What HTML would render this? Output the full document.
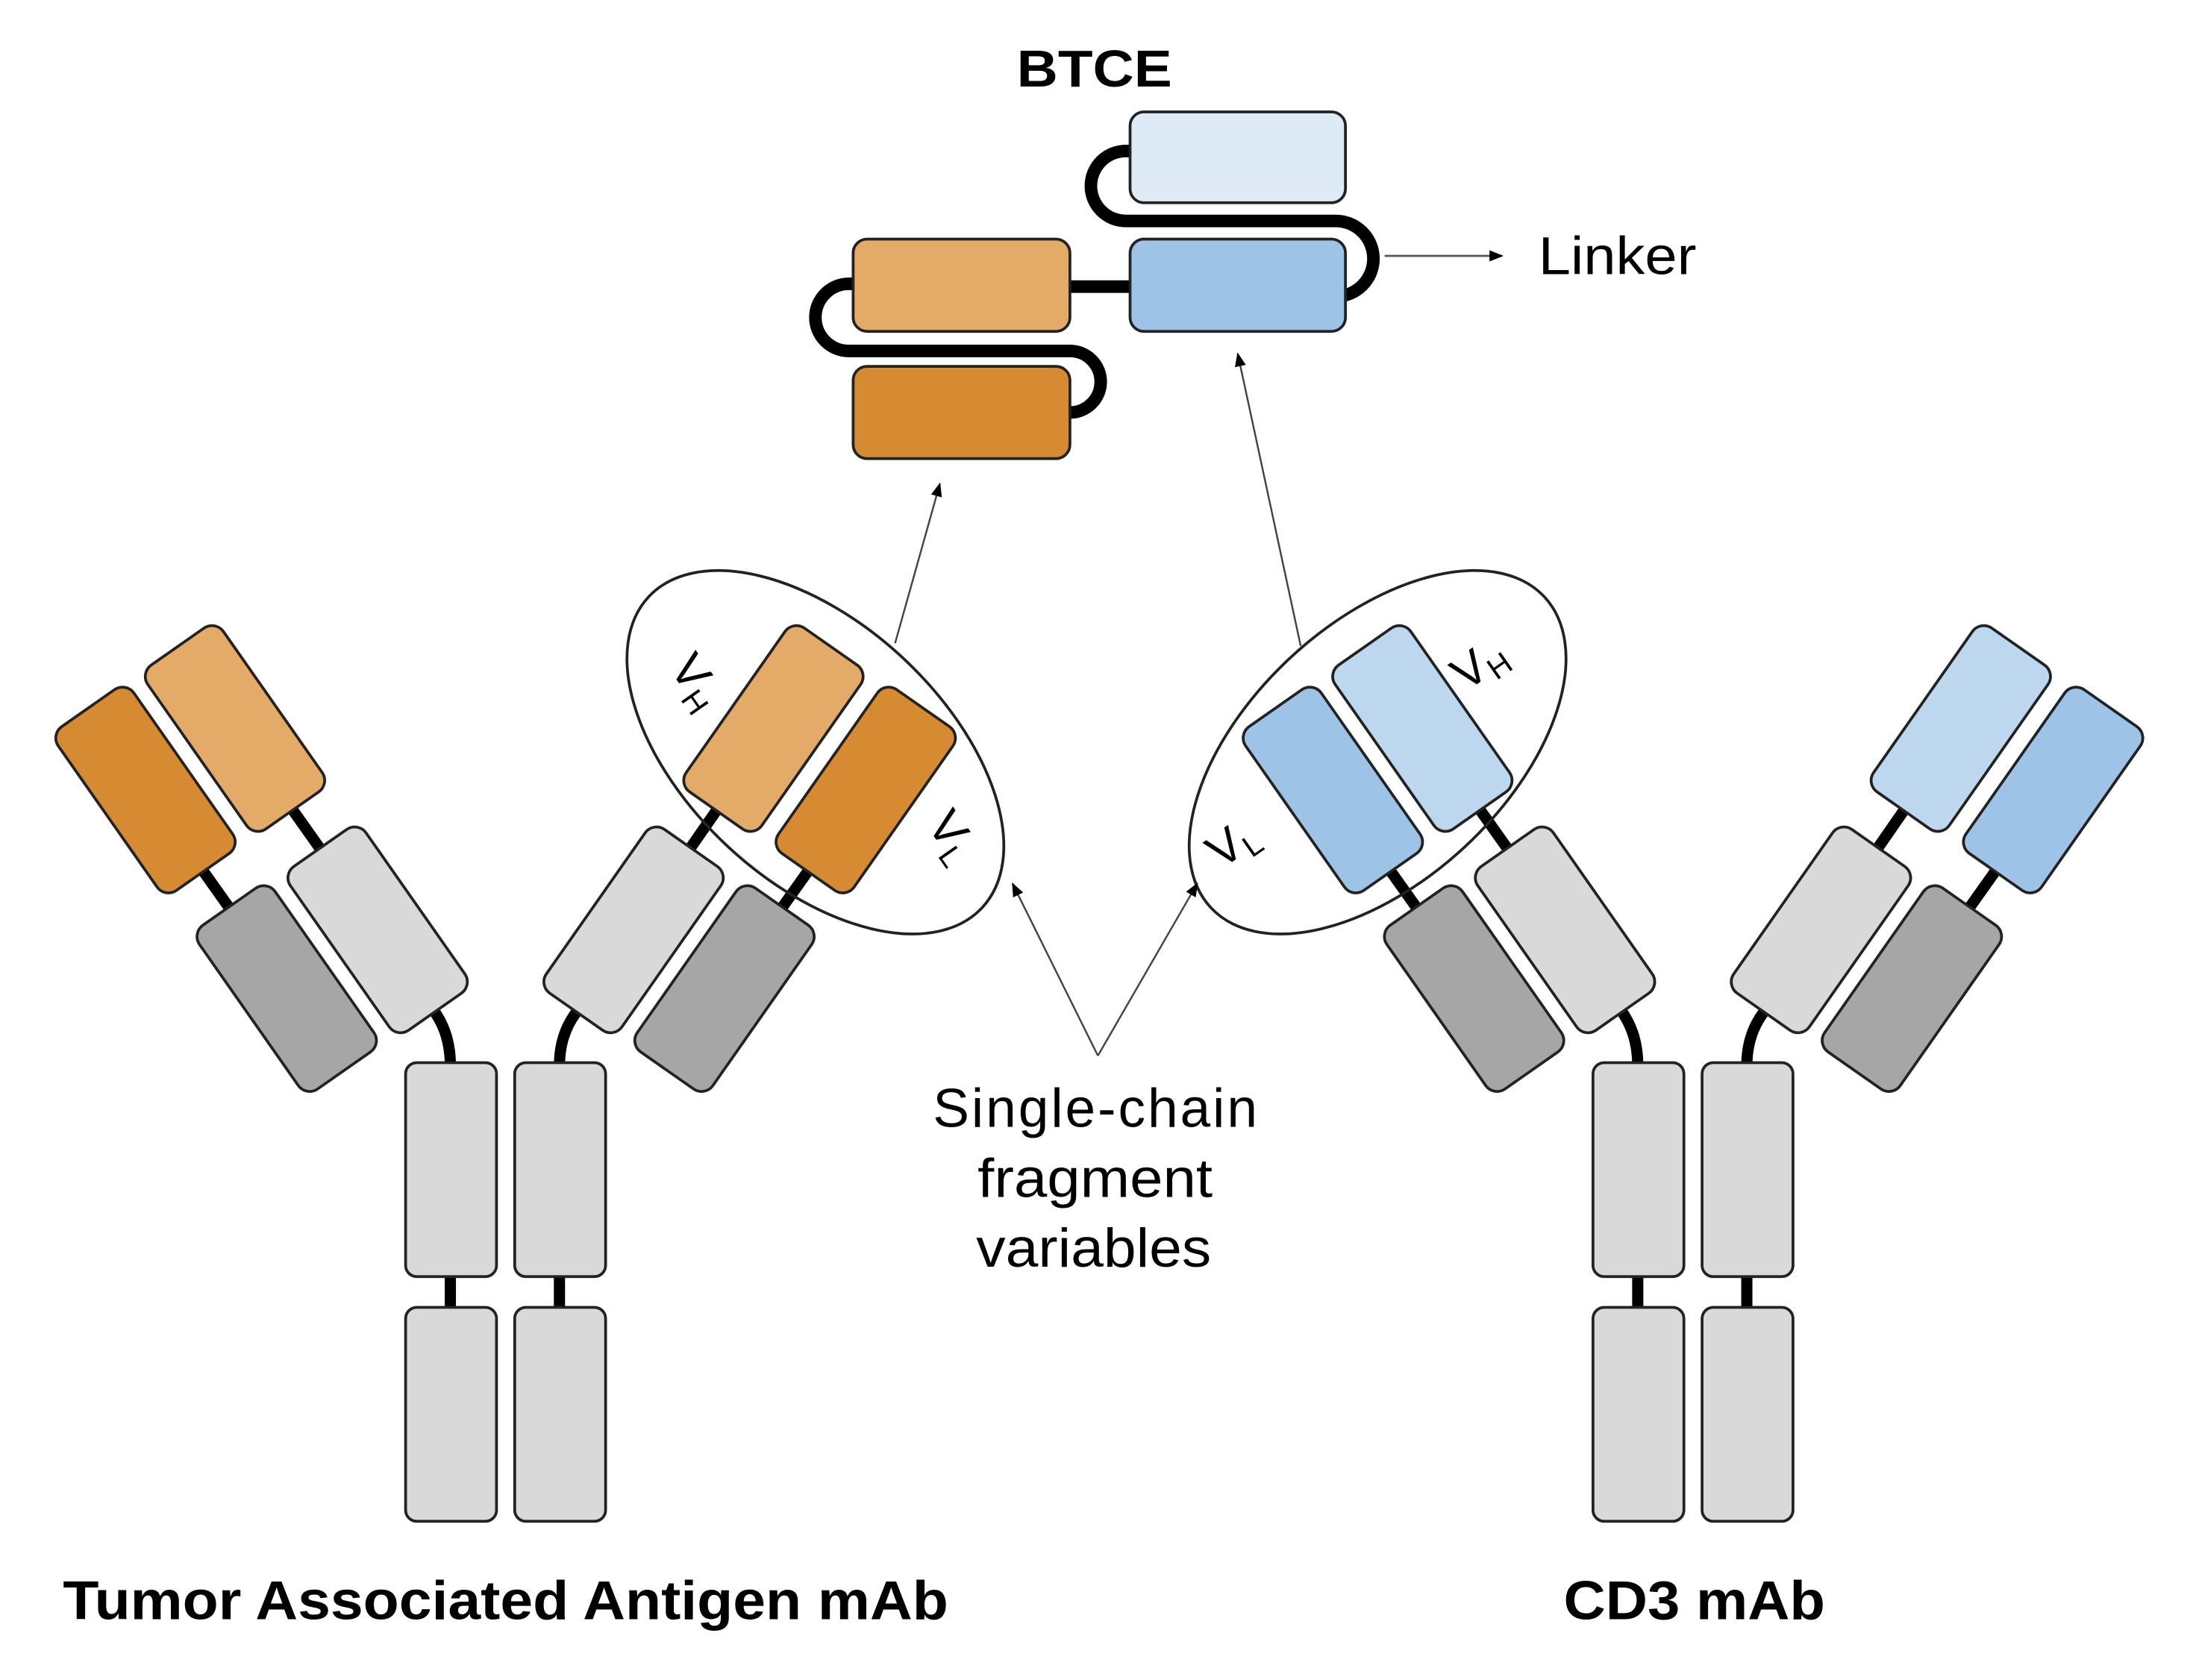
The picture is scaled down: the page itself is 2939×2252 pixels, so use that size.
<!DOCTYPE html>
<html><head><meta charset="utf-8"><style>html,body{margin:0;padding:0;background:#fff}svg{display:block}</style></head>
<body>
<svg width="2939" height="2252" viewBox="0 0 1568 1201.5" xmlns="http://www.w3.org/2000/svg" font-family="Liberation Sans, sans-serif">
<defs>
<marker id="ah" markerWidth="10" markerHeight="8" refX="9" refY="4" orient="auto" markerUnits="userSpaceOnUse"><path d="M0,0 L10,4 L0,8 z" fill="#000"/></marker>
<g id="box"><rect x="-33" y="-71.5" width="66" height="143" rx="10" stroke="#222" stroke-width="2"/></g>
<g id="stem">
<line x1="32" y1="913" x2="32" y2="935" stroke="#000" stroke-width="8"/>
<line x1="110" y1="913" x2="110" y2="935" stroke="#000" stroke-width="8"/>
<rect x="0" y="760" width="65" height="153" rx="8" fill="#D9D9D9" stroke="#222" stroke-width="2"/>
<rect x="78" y="760" width="65" height="153" rx="8" fill="#D9D9D9" stroke="#222" stroke-width="2"/>
<rect x="0" y="935" width="65" height="153" rx="8" fill="#D9D9D9" stroke="#222" stroke-width="2"/>
<rect x="78" y="935" width="65" height="153" rx="8" fill="#D9D9D9" stroke="#222" stroke-width="2"/>
</g>
</defs>

<g>
<path d="M311,724 Q322,740 322,762" fill="none" stroke="#000" stroke-width="8"/>
<path d="M412,724 Q400,740 400,762" fill="none" stroke="#000" stroke-width="8"/>
<line x1="104" y1="565" x2="205" y2="707" stroke="#000" stroke-width="8"/>
<line x1="168" y1="521" x2="270" y2="665" stroke="#000" stroke-width="8"/>
<line x1="619" y1="565" x2="518" y2="707" stroke="#000" stroke-width="8"/>
<line x1="553" y1="521" x2="453" y2="665" stroke="#000" stroke-width="8"/>
<use href="#stem" x="290"/>
<g transform="translate(104,565) rotate(-35)"><use href="#box" fill="#D68A31"/></g>
<g transform="translate(168,521) rotate(-35)"><use href="#box" fill="#E4AA68"/></g>
<g transform="translate(205,707) rotate(-35)"><use href="#box" fill="#A6A6A6"/></g>
<g transform="translate(270,665) rotate(-35)"><use href="#box" fill="#D9D9D9"/></g>
<g transform="translate(619,565) rotate(35)"><use href="#box" fill="#D68A31"/></g>
<g transform="translate(553,521) rotate(35)"><use href="#box" fill="#E4AA68"/></g>
<g transform="translate(518,707) rotate(35)"><use href="#box" fill="#A6A6A6"/></g>
<g transform="translate(453,665) rotate(35)"><use href="#box" fill="#D9D9D9"/></g>
<ellipse cx="583" cy="538" rx="163" ry="92" transform="rotate(43 583 538)" fill="none" stroke="#222" stroke-width="2"/>
<text x="0" y="0" font-size="34" transform="translate(478,478) rotate(55)">V<tspan font-size="22" dy="6">H</tspan></text>
<text x="0" y="0" font-size="34" transform="translate(662,590) rotate(55)">V<tspan font-size="22" dy="6">L</tspan></text>
</g>

<g>
<path d="M1160,724 Q1171,740 1171,762" fill="none" stroke="#000" stroke-width="8"/>
<path d="M1261,724 Q1249,740 1249,762" fill="none" stroke="#000" stroke-width="8"/>
<line x1="953" y1="565" x2="1054" y2="707" stroke="#000" stroke-width="8"/>
<line x1="1017" y1="521" x2="1119" y2="665" stroke="#000" stroke-width="8"/>
<line x1="1468" y1="565" x2="1367" y2="707" stroke="#000" stroke-width="8"/>
<line x1="1402" y1="521" x2="1302" y2="665" stroke="#000" stroke-width="8"/>
<use href="#stem" x="1139"/>
<g transform="translate(953,565) rotate(-35)"><use href="#box" fill="#9DC3E6"/></g>
<g transform="translate(1017,521) rotate(-35)"><use href="#box" fill="#BDD7EE"/></g>
<g transform="translate(1054,707) rotate(-35)"><use href="#box" fill="#A6A6A6"/></g>
<g transform="translate(1119,665) rotate(-35)"><use href="#box" fill="#D9D9D9"/></g>
<g transform="translate(1468,565) rotate(35)"><use href="#box" fill="#9DC3E6"/></g>
<g transform="translate(1402,521) rotate(35)"><use href="#box" fill="#BDD7EE"/></g>
<g transform="translate(1367,707) rotate(35)"><use href="#box" fill="#A6A6A6"/></g>
<g transform="translate(1302,665) rotate(35)"><use href="#box" fill="#D9D9D9"/></g>
<ellipse cx="985" cy="538" rx="163" ry="92" transform="rotate(-43 985 538)" fill="none" stroke="#222" stroke-width="2"/>
<text x="0" y="0" font-size="34" transform="translate(1048,495) rotate(-35)">V<tspan font-size="22" dy="6">H</tspan></text>
<text x="0" y="0" font-size="34" transform="translate(873,622) rotate(-35)">V<tspan font-size="22" dy="6">L</tspan></text>
</g>

<text x="727" y="62" font-size="37" font-weight="bold" textLength="111" lengthAdjust="spacingAndGlyphs">BTCE</text>
<path d="M808,108 H805 A25,25 0 0 0 805,158 H955 A27,27 0 0 1 955,212 H962" fill="none" stroke="#000" stroke-width="9"/>
<path d="M610,203 H607 A24,24 0 0 0 607,251 H765 A22,22 0 0 1 765,295" fill="none" stroke="#000" stroke-width="9"/>
<line x1="765" y1="205" x2="808" y2="205" stroke="#000" stroke-width="9"/>
<rect x="808" y="80" width="154" height="65" rx="10" fill="#DEEBF7" stroke="#222" stroke-width="2"/>
<rect x="808" y="171" width="154" height="66" rx="10" fill="#9DC3E6" stroke="#222" stroke-width="2"/>
<rect x="610" y="171" width="155" height="66" rx="10" fill="#E4AA68" stroke="#222" stroke-width="2"/>
<rect x="610" y="262" width="155" height="66" rx="10" fill="#D68A31" stroke="#222" stroke-width="2"/>
<line x1="990" y1="183" x2="1074" y2="183" stroke="#555" stroke-width="1.5" marker-end="url(#ah)"/>
<text x="1100" y="196" font-size="38" textLength="113" lengthAdjust="spacingAndGlyphs">Linker</text>

<line x1="640" y1="460" x2="672" y2="346" stroke="#444" stroke-width="1.3" marker-end="url(#ah)"/>
<line x1="930" y1="462" x2="885" y2="253" stroke="#444" stroke-width="1.3" marker-end="url(#ah)"/>
<line x1="785" y1="755" x2="724" y2="632" stroke="#444" stroke-width="1.3" marker-end="url(#ah)"/>
<line x1="785" y1="755" x2="856" y2="632" stroke="#444" stroke-width="1.3" marker-end="url(#ah)"/>
<text font-size="39" lengthAdjust="spacingAndGlyphs">
<tspan x="667" y="806" textLength="232">Single-chain</tspan>
</text>
<text font-size="39" x="699" y="856" textLength="168" lengthAdjust="spacingAndGlyphs">fragment</text>
<text font-size="39" x="698" y="906" textLength="168" lengthAdjust="spacingAndGlyphs">variables</text>

<text x="45" y="1158" font-size="39" font-weight="bold" textLength="633" lengthAdjust="spacingAndGlyphs">Tumor Associated Antigen mAb</text>
<text x="1118" y="1158" font-size="39" font-weight="bold" textLength="187" lengthAdjust="spacingAndGlyphs">CD3 mAb</text>
</svg>
</body></html>
